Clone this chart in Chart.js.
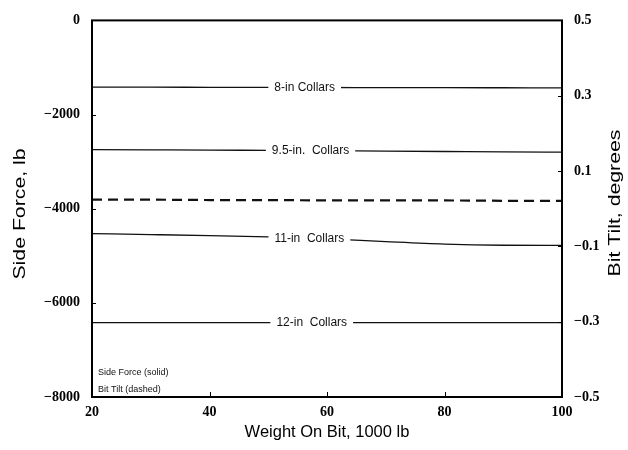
<!DOCTYPE html>
<html>
<head>
<meta charset="utf-8">
<script src="https://cdn.jsdelivr.net/npm/chart.js@4/dist/chart.umd.min.js"></script>
<style>
html,body{margin:0;padding:0;background:#fff;}
#wrap{width:628px;height:450px;position:relative;}
</style>
</head>
<body>
<div id="wrap"><canvas id="c" width="628" height="450"></canvas></div>
<script>
// ---- data ----
const weightOnBit = [20, 30, 40, 50, 60, 70, 80, 90, 100];
const sideForce8 = [-1418, -1419, -1421, -1423, -1425, -1427, -1429, -1431, -1432];
const sideForce95 = [-2745, -2750, -2755, -2762, -2768, -2776, -2785, -2795, -2800];
const sideForce11 = [-4530, -4550, -4572, -4600, -4640, -4700, -4752, -4776, -4780];
const sideForce12 = [-6420, -6420, -6420, -6420, -6420, -6420, -6420, -6420, -6420];
const bitTilt = [0.024, 0.024, 0.023, 0.023, 0.022, 0.022, 0.022, 0.021, 0.021];
const seriesLabels = ["8-in Collars", "9.5-in.  Collars", "11-in  Collars", "12-in  Collars"];
const labelAtX = [56.2, 57.2, 57.0, 57.4];
const xTicks = [20, 40, 60, 80, 100];
const leftTicks = [0, -2000, -4000, -6000, -8000];
const rightTicks = [0.5, 0.3, 0.1, -0.1, -0.3, -0.5];
const annotations = ["Side Force (solid)", "Bit Tilt (dashed)"];
const leftTitle = "Side Force, lb";
const rightTitle = "Bit Tilt, degrees";

const fmt = v => (v < 0 ? "\u2212" + String(Math.abs(v)) : String(v));
const tickFont = {family: "'Liberation Serif', 'Times New Roman'", size: 14, weight: "bold"};
const xTitleFont = {family: "'Liberation Sans', Arial", size: 16.5};
const yTitleCss = "17px 'Liberation Sans', Arial";

function pts(arr) { return weightOnBit.map((x, i) => ({x: x, y: arr[i]})); }

const solidStyle = {borderColor: "#111", borderWidth: 1.3, pointRadius: 0, fill: false, cubicInterpolationMode: "monotone", yAxisID: "y"};

const framePlugin = {
  id: "frame",
  afterDatasetsDraw(chart) {
    const ctx = chart.ctx, a = chart.chartArea;
    const xs = chart.scales.x, ys = chart.scales.y, y2 = chart.scales.y2;
    ctx.save();
    // inline labels with gaps
    ctx.font = "12px 'Liberation Sans', Arial";
    ctx.textBaseline = "middle";
    ctx.textAlign = "center";
    const sets = [sideForce8, sideForce95, sideForce11, sideForce12];
    sets.forEach((s, i) => {
      const px = xs.getPixelForValue(labelAtX[i]);
      let k = 0;
      while (k < weightOnBit.length - 2 && weightOnBit[k + 1] < labelAtX[i]) k++;
      const t = (labelAtX[i] - weightOnBit[k]) / (weightOnBit[k + 1] - weightOnBit[k]);
      const v = s[k] + t * (s[k + 1] - s[k]);
      const py = ys.getPixelForValue(v);
      const w = ctx.measureText(seriesLabels[i]).width;
      ctx.fillStyle = "#fff";
      ctx.fillRect(px - w / 2 - 6, py - 4, w + 12, 8);
      ctx.fillStyle = "#111";
      ctx.fillText(seriesLabels[i], px, py + 0.5);
    });
    // annotations
    ctx.font = "9px 'Liberation Sans', Arial";
    ctx.textAlign = "left";
    ctx.fillText(annotations[0], a.left + 6, ys.getPixelForValue(-7490));
    ctx.fillText(annotations[1], a.left + 6, ys.getPixelForValue(-7840));
    // frame
    ctx.strokeStyle = "#000";
    ctx.lineWidth = 2;
    ctx.strokeRect(a.left, a.top, a.right - a.left, a.bottom - a.top);
    // inward ticks
    ctx.lineWidth = 1;
    xTicks.forEach(v => {
      const p = Math.round(xs.getPixelForValue(v)) + 0.5;
      ctx.beginPath(); ctx.moveTo(p, a.bottom); ctx.lineTo(p, a.bottom - 5); ctx.stroke();
    });
    leftTicks.forEach(v => {
      const p = Math.round(ys.getPixelForValue(v)) + 0.5;
      ctx.beginPath(); ctx.moveTo(a.left, p); ctx.lineTo(a.left + 4, p); ctx.stroke();
    });
    rightTicks.forEach(v => {
      const p = Math.round(y2.getPixelForValue(v)) + 0.5;
      ctx.beginPath(); ctx.moveTo(a.right, p); ctx.lineTo(a.right - 4, p); ctx.stroke();
    });
    // vertical axis titles, both reading bottom-to-top (slightly stretched like the scan)
    ctx.font = yTitleCss;
    ctx.fillStyle = "#000";
    ctx.textAlign = "center";
    ctx.textBaseline = "middle";
    [[20, 214, leftTitle], [615, 203, rightTitle]].forEach(([cx, cy, txt]) => {
      ctx.save();
      ctx.translate(cx, cy);
      ctx.rotate(-Math.PI / 2);
      ctx.scale(1.25, 1);
      ctx.fillText(txt, 0, 0);
      ctx.restore();
    });
    ctx.restore();
  }
};

new Chart(document.getElementById("c"), {
  type: "line",
  data: {
    datasets: [
      Object.assign({label: seriesLabels[0], data: pts(sideForce8)}, solidStyle),
      Object.assign({label: seriesLabels[1], data: pts(sideForce95)}, solidStyle),
      Object.assign({label: seriesLabels[2], data: pts(sideForce11)}, solidStyle),
      Object.assign({label: seriesLabels[3], data: pts(sideForce12)}, solidStyle),
      {label: "Bit Tilt", data: pts(bitTilt), yAxisID: "y2", borderColor: "#111", borderWidth: 2.2,
       borderDash: [10, 6], pointRadius: 0, fill: false}
    ]
  },
  options: {
    responsive: false,
    animation: false,
    layout: {padding: {top: 17, left: 0, right: 0, bottom: 0}},
    plugins: {legend: {display: false}, tooltip: {enabled: false}},
    scales: {
      x: {
        type: "linear", min: 20, max: 100,
        afterBuildTicks: s => { s.ticks = xTicks.map(v => ({value: v})); },
        afterFit: s => { s.height = 53; },
        grid: {display: false, drawTicks: false},
        border: {display: false},
        ticks: {color: "#000", font: tickFont, padding: 7, maxRotation: 0, callback: v => fmt(v)},
        title: {display: true, text: "Weight On Bit, 1000 lb", color: "#000", font: xTitleFont, padding: {top: 0, bottom: 8}}
      },
      y: {
        type: "linear", position: "left", min: -8000, max: 0,
        afterBuildTicks: s => { s.ticks = leftTicks.map(v => ({value: v})); },
        afterFit: s => { s.width = 92; },
        grid: {display: false, drawTicks: false},
        border: {display: false},
        ticks: {color: "#000", font: tickFont, padding: 12, callback: v => fmt(v)},
        title: {display: false, text: leftTitle}
      },
      y2: {
        type: "linear", position: "right", min: -0.5, max: 0.5,
        afterBuildTicks: s => { s.ticks = rightTicks.map(v => ({value: v})); },
        afterFit: s => { s.width = 66; },
        grid: {display: false, drawTicks: false},
        border: {display: false},
        ticks: {color: "#000", font: tickFont, padding: 12, callback: v => fmt(v)},
        title: {display: false, text: rightTitle}
      }
    }
  },
  plugins: [framePlugin]
});
</script>
</body>
</html>
